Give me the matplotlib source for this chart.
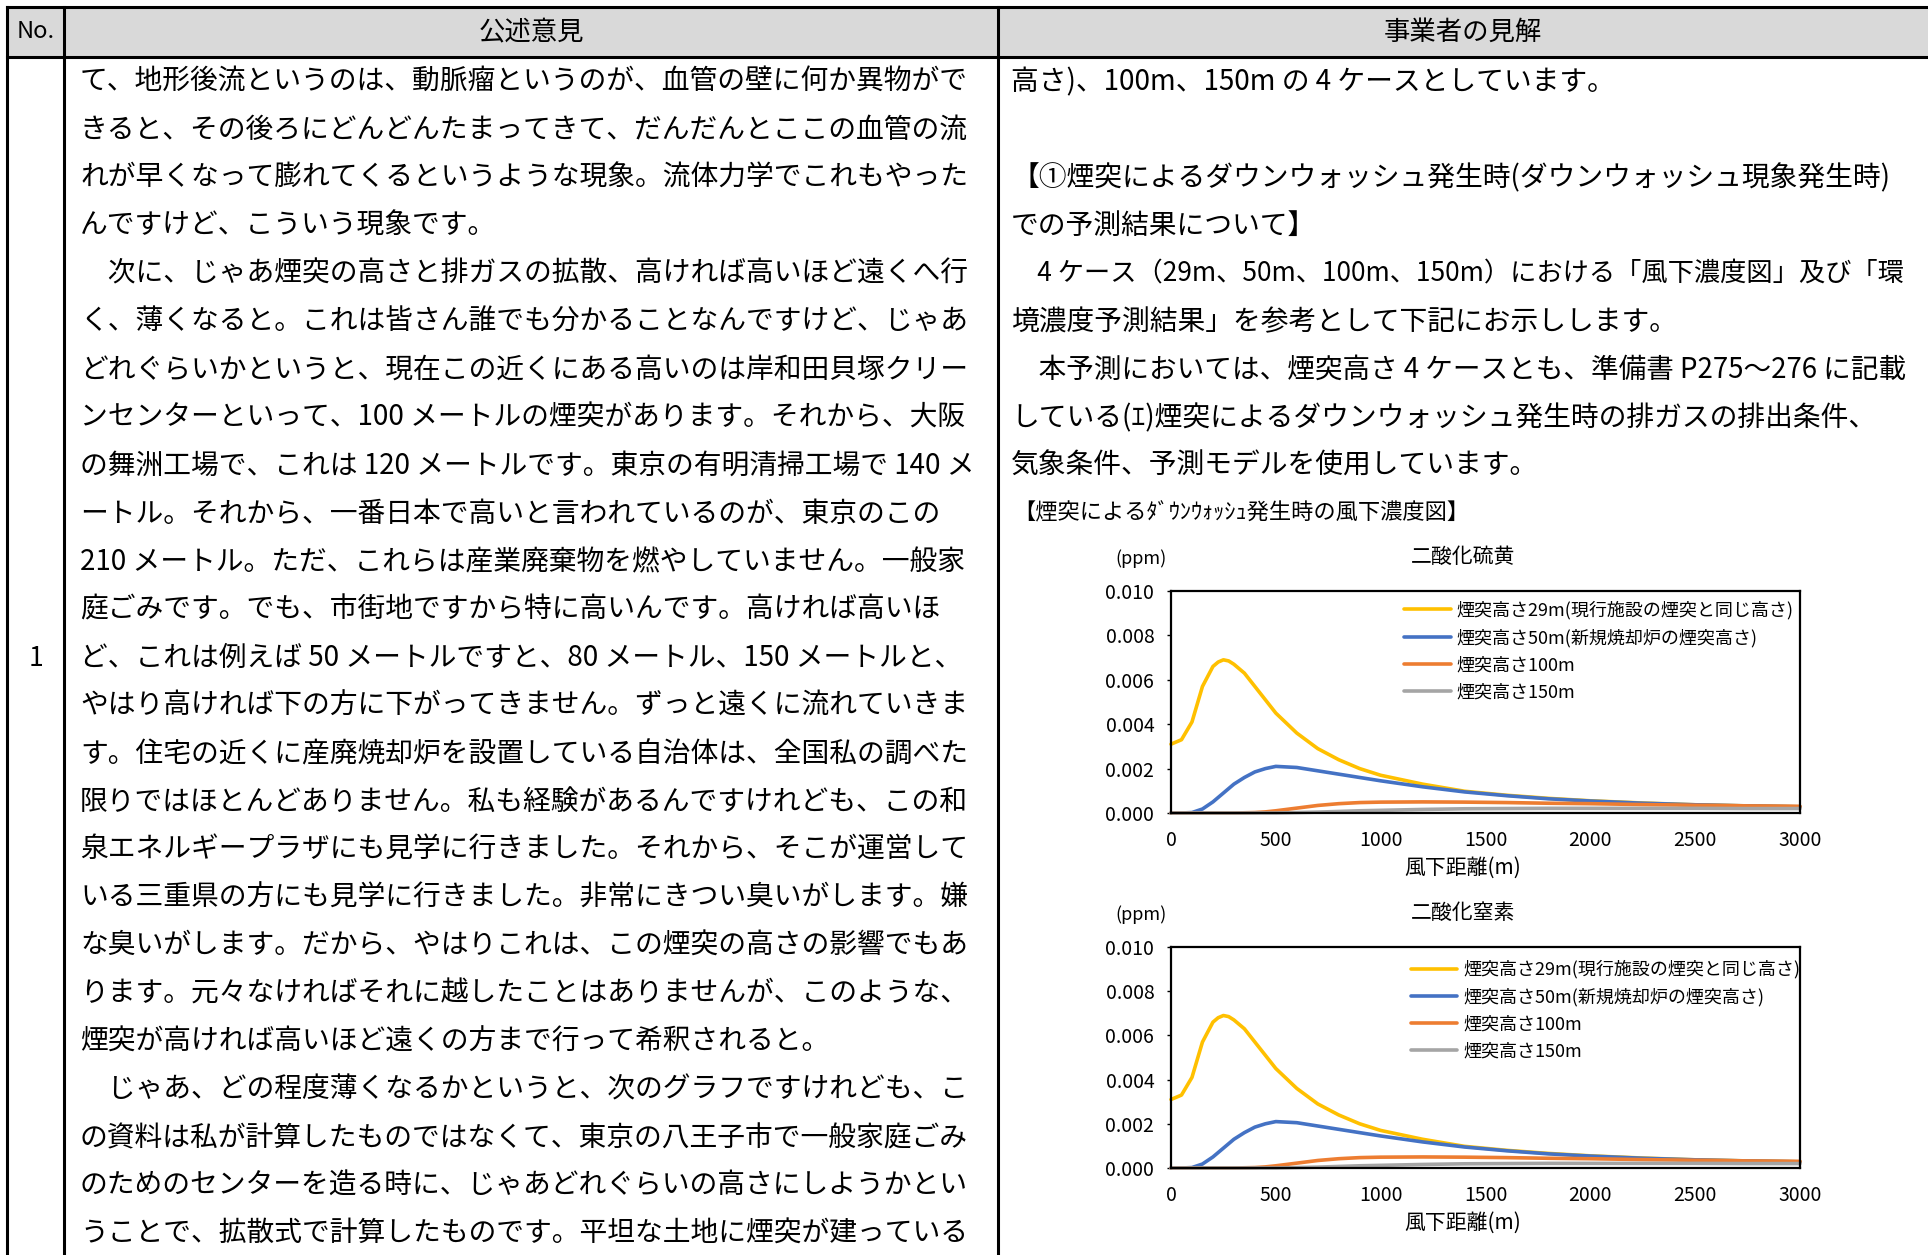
import numpy as np
import matplotlib
matplotlib.use("Agg")
import matplotlib.pyplot as plt

plt.rcParams['font.family'] = ['Noto Sans CJK JP', 'DejaVu Sans']

# table text
header_no = "No."
header_left = "公述意見"
header_right = "事業者の見解"
row_no = "1"

left_lines = [
    "て、地形後流というのは、動脈瘤というのが、血管の壁に何か異物がで",
    "きると、その後ろにどんどんたまってきて、だんだんとここの血管の流",
    "れが早くなって膨れてくるというような現象。流体力学でこれもやった",
    "んですけど、こういう現象です。",
    "\u3000次に、じゃあ煙突の高さと排ガスの拡散、高ければ高いほど遠くへ行",
    "く、薄くなると。これは皆さん誰でも分かることなんですけど、じゃあ",
    "どれぐらいかというと、現在この近くにある高いのは岸和田貝塚クリー",
    "ンセンターといって、100 メートルの煙突があります。それから、大阪",
    "の舞洲工場で、これは 120 メートルです。東京の有明清掃工場で 140 メ",
    "ートル。それから、一番日本で高いと言われているのが、東京のこの",
    "210 メートル。ただ、これらは産業廃棄物を燃やしていません。一般家",
    "庭ごみです。でも、市街地ですから特に高いんです。高ければ高いほ",
    "ど、これは例えば 50 メートルですと、80 メートル、150 メートルと、",
    "やはり高ければ下の方に下がってきません。ずっと遠くに流れていきま",
    "す。住宅の近くに産廃焼却炉を設置している自治体は、全国私の調べた",
    "限りではほとんどありません。私も経験があるんですけれども、この和",
    "泉エネルギープラザにも見学に行きました。それから、そこが運営して",
    "いる三重県の方にも見学に行きました。非常にきつい臭いがします。嫌",
    "な臭いがします。だから、やはりこれは、この煙突の高さの影響でもあ",
    "ります。元々なければそれに越したことはありませんが、このような、",
    "煙突が高ければ高いほど遠くの方まで行って希釈されると。",
    "\u3000じゃあ、どの程度薄くなるかというと、次のグラフですけれども、こ",
    "の資料は私が計算したものではなくて、東京の八王子市で一般家庭ごみ",
    "のためのセンターを造る時に、じゃあどれぐらいの高さにしようかとい",
    "うことで、拡散式で計算したものです。平坦な土地に煙突が建っている",
]

right_lines = [
    "高さ)、100m、150m の 4 ケースとしています。",
    "",
    "【①煙突によるダウンウォッシュ発生時(ダウンウォッシュ現象発生時)",
    "での予測結果について】",
    "\u30004 ケース（29m、50m、100m、150m）における「風下濃度図」及び「環",
    "境濃度予測結果」を参考として下記にお示しします。",
    "\u3000本予測においては、煙突高さ 4 ケースとも、準備書 P275～276 に記載",
    "している(ｴ)煙突によるダウンウォッシュ発生時の排ガスの排出条件、",
    "気象条件、予測モデルを使用しています。",
]
figure_heading = "【煙突によるﾀﾞｳﾝｳｫｯｼｭ発生時の風下濃度図】"

# chart data
distance = [0, 50, 100, 150, 200, 225, 250, 275, 300, 350, 400, 450, 500, 600,
            700, 800, 900, 1000, 1200, 1400, 1600, 1800, 2000, 2250, 2500, 2750, 3000]
h29 = [0.0031, 0.0033, 0.0041, 0.0057, 0.0066, 0.0068, 0.0069, 0.00685, 0.0067,
       0.0063, 0.0057, 0.0051, 0.0045, 0.0036, 0.0029, 0.0024, 0.0020, 0.0017,
       0.0013, 0.00098, 0.0008, 0.00066, 0.00055, 0.00045, 0.00037, 0.00032, 0.00028]
h50 = [0.0, 0.0, 0.00002, 0.00018, 0.0005, 0.0007, 0.0009, 0.0011, 0.0013,
       0.0016, 0.00185, 0.0020, 0.0021, 0.00205, 0.0019, 0.00175, 0.0016, 0.00145,
       0.00118, 0.00095, 0.00078, 0.00064, 0.00054, 0.00044, 0.00037, 0.00032, 0.00028]
h100 = [0.0, 0.0, 0.0, 0.0, 0.0, 0.0, 0.0, 0.0, 0.0,
        0.00001, 0.00002, 0.00005, 0.0001, 0.00022, 0.00034, 0.00042, 0.00047, 0.00049,
        0.0005, 0.00049, 0.00047, 0.00044, 0.00042, 0.00038, 0.00035, 0.00032, 0.0003]
h150 = [0.0, 0.0, 0.0, 0.0, 0.0, 0.0, 0.0, 0.0, 0.0,
        0.0, 0.0, 0.0, 0.0, 0.00002, 0.00004, 0.00007, 0.0001, 0.00012,
        0.00016, 0.00019, 0.0002, 0.00021, 0.00021, 0.00021, 0.00021, 0.0002, 0.0002]

series_labels = ["煙突高さ29m(現行施設の煙突と同じ高さ)", "煙突高さ50m(新規焼却炉の煙突高さ)",
                 "煙突高さ100m", "煙突高さ150m"]
series_colors = ["#FFC000", "#4472C4", "#ED7D31", "#A5A5A5"]
x_ticks = [0, 500, 1000, 1500, 2000, 2500, 3000]
y_ticks = [0.000, 0.002, 0.004, 0.006, 0.008, 0.010]
chart_titles = ["二酸化硫黄", "二酸化窒素"]

W, H = 1928, 1255
fig = plt.figure(figsize=(W / 100, H / 100), dpi=100)
bg = fig.add_axes([0, 0, 1, 1])
bg.set_xlim(0, W)
bg.set_ylim(H, 0)
bg.axis('off')
renderer = fig.canvas.get_renderer()


def fit_text(x, y, s, size, right):
    # shrink a line if it runs past the cell edge
    t = bg.text(x, y, s, ha='left', va='center', fontsize=size)
    w = t.get_window_extent(renderer).width
    if x + w > right:
        t.set_fontsize(size * (right - x) / w)
    return t


# table
bg.fill_between([7, W], 7, 57, color="#D9D9D9", zorder=0)
lw = 2.2
bg.plot([7, W], [7, 7], color='black', lw=lw)
bg.plot([7, W], [57, 57], color='black', lw=lw)
for xv in [7, 64, 998]:
    bg.plot([xv, xv], [7, H], color='black', lw=lw)

bg.text(36, 32, header_no, ha='center', va='center', fontsize=17)
bg.text(531, 32, header_left, ha='center', va='center', fontsize=19)
bg.text(1463, 32, header_right, ha='center', va='center', fontsize=19)
bg.text(36, 658, row_no, ha='center', va='center', fontsize=19)

for i, line in enumerate(left_lines):
    fit_text(80, 82 + 48 * i, line, 20, 978)
for i, line in enumerate(right_lines):
    fit_text(1011, 82 + 48 * i, line, 20, 1905)
bg.text(1013, 513, figure_heading, ha='left', va='center', fontsize=16)

# charts
chart_boxes = [(591, 813), (947, 1168)]
legend_anchors = [(0.355, 1.0), (0.365, 0.985)]
for k, (top, bottom) in enumerate(chart_boxes):
    ax = fig.add_axes([1171 / W, 1 - bottom / H, 629 / W, (bottom - top) / H])
    for vals, lab, col in zip([h29, h50, h100, h150], series_labels, series_colors):
        ax.plot(distance, vals, color=col, lw=2.6, label=lab, clip_on=False,
                solid_capstyle='round', solid_joinstyle='round')
    ax.set_xlim(0, 3000)
    ax.set_ylim(0, 0.010)
    ax.set_xticks(x_ticks)
    ax.set_yticks(y_ticks)
    ax.set_yticklabels([f"{v:.3f}" for v in y_ticks])
    ax.tick_params(axis='x', length=0, pad=12, labelsize=14)
    ax.tick_params(axis='y', length=3, width=1, pad=9, labelsize=14)
    for s in ax.spines.values():
        s.set_linewidth(1.6)
        s.set_color('black')
    ax.legend(loc='upper left', bbox_to_anchor=legend_anchors[k], frameon=False,
              fontsize=13, handlelength=2.6, handletextpad=0.3,
              labelspacing=0.5, borderaxespad=0.15)
    bg.text(1463, top - 34, chart_titles[k], ha='center', va='center', fontsize=15)
    bg.text(1141, top - 32, "(ppm)", ha='center', va='center', fontsize=13)
    bg.text(1463, bottom + 55, "風下距離(m)", ha='center', va='center', fontsize=15)

fig.savefig("out.png", dpi=100)
